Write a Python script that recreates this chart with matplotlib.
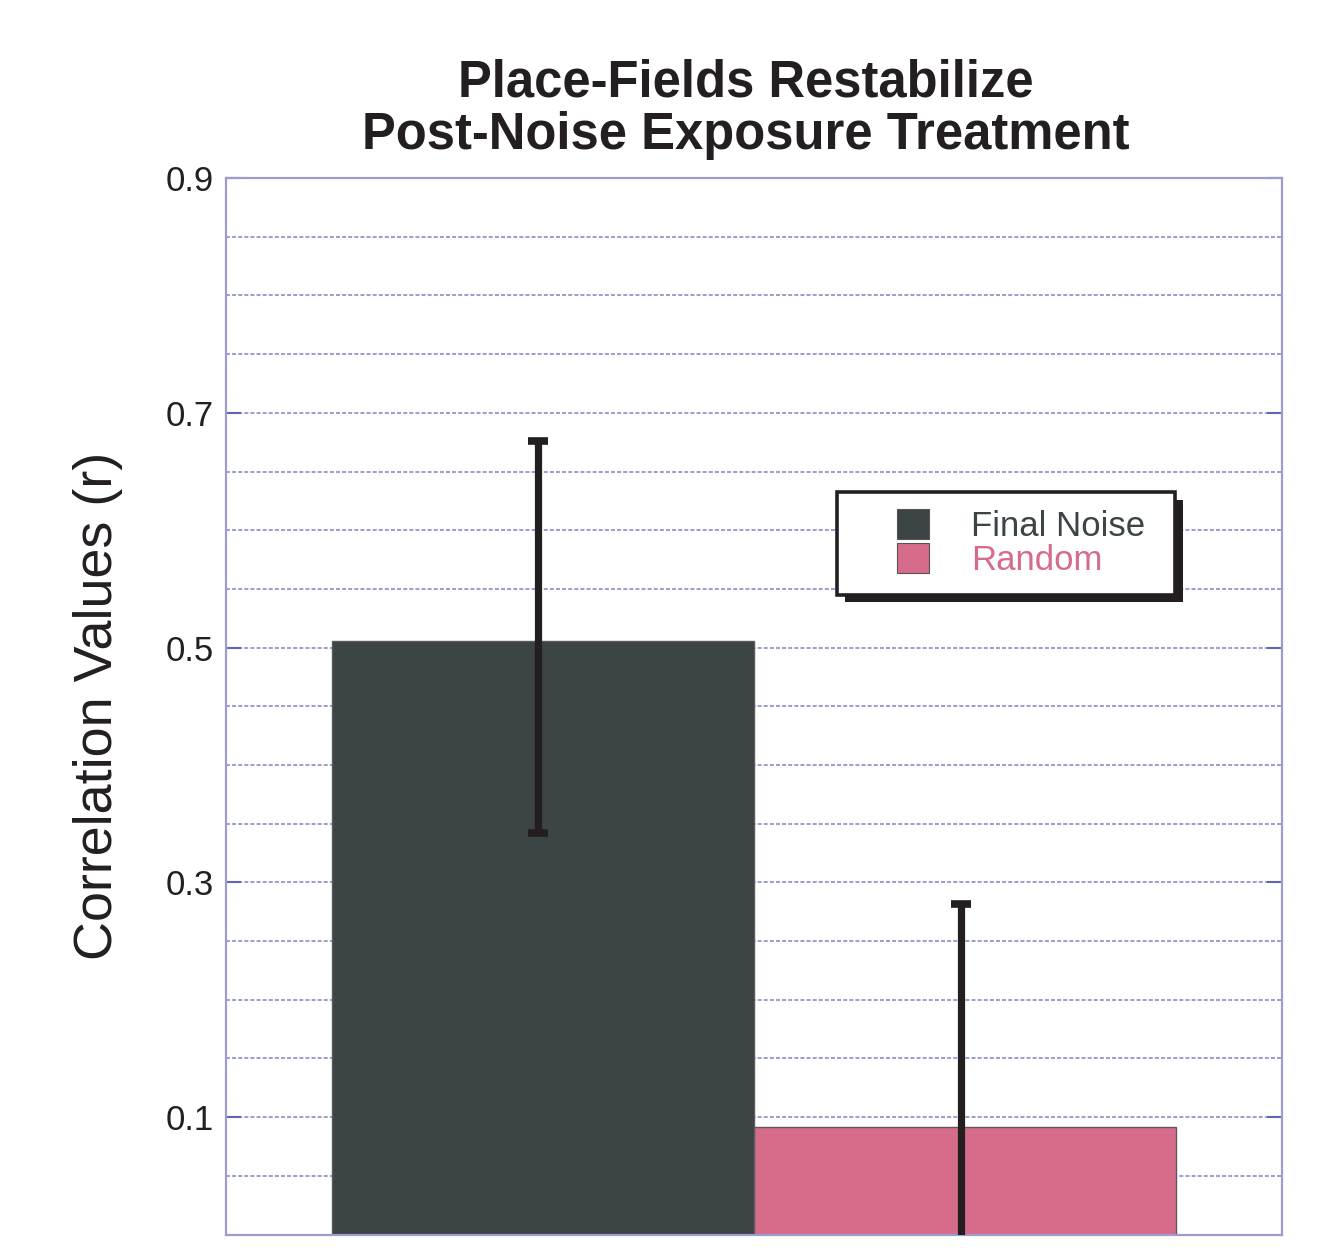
import numpy as np
import matplotlib
matplotlib.use("Agg")
import matplotlib.pyplot as plt
from matplotlib.patches import Rectangle, Patch
from matplotlib.legend_handler import HandlerPatch
from matplotlib.transforms import ScaledTranslation
import matplotlib.patheffects as pe

plt.rcParams['font.family'] = ['Liberation Sans', 'DejaVu Sans']

# Data
categories = ["Final Noise", "Random"]
means = [0.506, 0.092]
err_lower = [0.164, 0.19]
err_upper = [0.170, 0.19]
bar_colors = ["#3c4446", "#d76b8a"]
ytick_values = [0.1, 0.3, 0.5, 0.7, 0.9]
ytick_labels = ["0.1", "0.3", "0.5", "0.7", "0.9"]

title = "Place-Fields Restabilize\nPost-Noise Exposure Treatment"
ylabel = "Correlation Values (r)"

fig = plt.figure(figsize=(13.18, 12.6), dpi=100)
ax = fig.add_axes([0.1715, 0.0202, 0.8012, 0.8385])

x = np.arange(len(categories))
ax.bar(x, means, width=1.0, color=bar_colors, edgecolor="#5a5a5a",
       linewidth=1.0, zorder=2)
eb = ax.errorbar(x, means, yerr=[err_lower, err_upper], fmt="none",
                 ecolor="#231f20", elinewidth=5.2, capsize=7.5,
                 capthick=5.5, zorder=3)
# whiskers sit a few pixels left of the bar centres
shift = ax.transData + ScaledTranslation(-4.5 / 100, 0, fig.dpi_scale_trans)
for art in list(eb[1]) + list(eb[2]):
    art.set_transform(shift)

ax.set_xlim(-0.75, 1.75)
ax.set_ylim(0, 0.9)

# Dashed grid every 0.05, labelled ticks every 0.2
ax.set_yticks(ytick_values)
ax.set_yticklabels(ytick_labels)
ax.set_yticks(np.arange(0.05, 0.9, 0.05), minor=True)
ax.set_axisbelow(True)
ax.grid(axis="y", which="both", color="#6c6cc0", linestyle=(0, (2.6, 1.4)),
        linewidth=1.1, alpha=0.85)
ax.set_xticks([])
ax.tick_params(axis="y", which="major", direction="in", length=11, width=1.5,
               color="#6464b4", left=True, right=True, labelsize=25,
               labelcolor="#231f20", pad=9)
ax.tick_params(axis="y", which="minor", length=0)
for s in ax.spines.values():
    s.set_color("#9c9ccd")
    s.set_linewidth(1.6)

ax.set_ylabel(ylabel, fontsize=38.8, color="#231f20")
ax.yaxis.set_label_coords(-0.098, 0.5)

fig.text(0.566, 1 - 149 / 1260, title, ha="center", va="baseline",
         fontsize=36.5, fontweight="bold", color="#231f20", linespacing=1.1)


# Legend with the colour swatch drawn at the right end of the handle area
def swatch(legend, orig_handle, xdescent, ydescent, width, height, fontsize):
    w = 0.92 * fontsize
    return Rectangle((-xdescent + width - w, -ydescent), w, height)


handles = [Patch(facecolor=c, edgecolor="#555555", linewidth=0.8)
           for c in bar_colors]
leg = ax.legend(handles, categories, loc="upper left", mode="expand",
                bbox_to_anchor=(0.5786, 0.608, 0.3201, 0.0948), fontsize=25,
                frameon=True, fancybox=False, borderpad=0.5,
                labelspacing=0.0, handlelength=2.16, handleheight=0.95,
                handletextpad=1.2, borderaxespad=0.0,
                handler_map={Patch: HandlerPatch(patch_func=swatch)})
frame = leg.get_frame()
frame.set_edgecolor("#231f20")
frame.set_linewidth(2.6)
frame.set_alpha(1)
frame.set_path_effects([pe.SimplePatchShadow(offset=(5.5, -5.5),
                                             shadow_rgbFace="#231f20",
                                             alpha=1.0),
                        pe.Normal()])
for t, c in zip(leg.get_texts(), bar_colors):
    t.set_color(c)

fig.savefig("out.png", dpi=100, facecolor="white")
